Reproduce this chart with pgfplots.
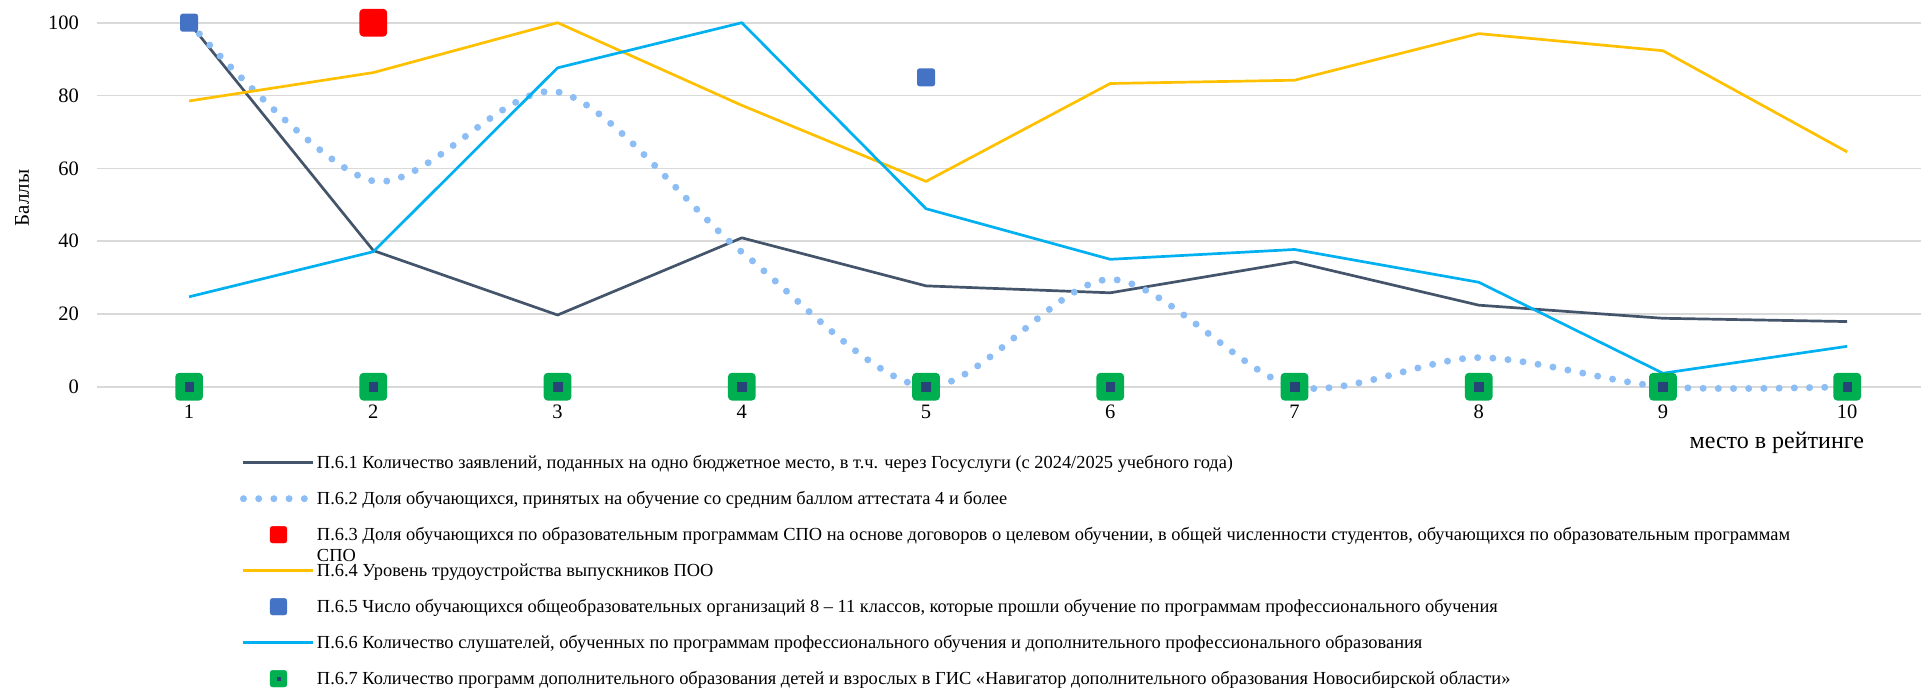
\documentclass[border=0pt]{standalone}
\usepackage{fontspec}
\setmainfont{Liberation Serif}
\usepackage{pgfplots}
\pgfplotsset{compat=1.18}
\definecolor{s1}{HTML}{44546A}
\definecolor{s2}{RGB}{140,190,245}
\definecolor{s3}{HTML}{FF0000}
\definecolor{s4}{HTML}{FFC000}
\definecolor{s5}{HTML}{4472C4}
\definecolor{s6}{HTML}{00B0F0}
\definecolor{s7}{HTML}{00B050}
\definecolor{navy}{HTML}{264478}
\definecolor{gridgray}{HTML}{D9D9D9}
\newdimen\rsqm \newdimen\rsqr \newdimen\rsqa
\pgfdeclareplotmark{rsquare}{%
  \rsqm=\pgfplotmarksize \rsqr=0.28\pgfplotmarksize \rsqa=\rsqm \advance\rsqa by -\rsqr
  \pgfpathmoveto{\pgfpoint{-\rsqa}{-\rsqm}}%
  \pgfpathlineto{\pgfpoint{\rsqa}{-\rsqm}}%
  \pgfpatharc{-90}{0}{\rsqr}%
  \pgfpathlineto{\pgfpoint{\rsqm}{\rsqa}}%
  \pgfpatharc{0}{90}{\rsqr}%
  \pgfpathlineto{\pgfpoint{-\rsqa}{\rsqm}}%
  \pgfpatharc{90}{180}{\rsqr}%
  \pgfpathlineto{\pgfpoint{-\rsqm}{-\rsqa}}%
  \pgfpatharc{180}{270}{\rsqr}%
  \pgfpathclose
  \pgfusepathqfill}
\begin{document}
\begin{tikzpicture}
\useasboundingbox (0,0) rectangle (1921pt,-689pt);
\begin{axis}[
  at={(97pt,-386.7pt)}, anchor=south west,
  width=1824pt, height=364pt, scale only axis,
  xmin=0.5, xmax=10.4, ymin=0, ymax=100,
  xtick={1,...,10}, ytick={0,20,...,100},
  ymajorgrids, grid style={draw=gridgray, line width=1.6pt},
  axis line style={draw=none}, major tick length=0pt,
  clip=false,
  /pgf/number format/assume math mode=true,
  ticklabel style={font=\fontsize{20.5}{24}\selectfont, inner sep=0pt},
  xticklabel style={yshift=-18.3pt},
  yticklabel style={xshift=-18pt},
  ylabel={Баллы},
  ylabel style={at={(axis description cs:-0.0411,0.518)}, anchor=center, font=\fontsize{21}{25}\selectfont},
  xlabel={место в рейтинге},
  xlabel style={at={(axis description cs:0.921,-0.1547)}, anchor=center, font=\fontsize{24}{28}\selectfont},
  legend cell align=left,
  legend image code/.code={\draw[#1] (0pt,0pt) -- (70pt,0pt);},
  legend style={at={(axis description cs:0.0784,-0.184)}, anchor=north west,
    draw=none, fill=none, inner sep=0pt, outer sep=0pt,
    row sep=18pt, column sep=0pt,
    nodes={inner sep=0pt, text height=14.5pt, text depth=3.5pt, font=\fontsize{18.4}{21.6}\selectfont}},
]
\addplot[s1, line width=2.7pt, line join=round, mark=none] coordinates {
 (1,100) (2,37.4) (3,19.7) (4,40.9) (5,27.7) (6,25.8) (7,34.3) (8,22.4) (9,18.8) (10,17.9)};
\addlegendentry{П.6.1 Количество заявлений, поданных на одно бюджетное место, в т.ч. через Госуслуги (с 2024/2025 учебного года)}
\addplot[s2, line width=7pt, line cap=round, dash pattern=on 0pt off 15.2pt, smooth, mark=none] coordinates {
 (1,100) (2,56.5) (3,81) (4,37) (5,0) (6,29.5) (7,0) (8,8) (9,0) (10,0)};
\addlegendentry{П.6.2 Доля обучающихся, принятых на обучение со средним баллом аттестата 4 и более}
\addplot[s3, only marks, mark=rsquare, mark size=13.85pt,
  legend image code/.code={\fill[s3, rounded corners=2.5pt] (26.65pt,-8.35pt) rectangle (43.35pt,8.35pt);}] coordinates {(2,100)};
\addlegendentry{\smash{\parbox[t]{1700pt}{П.6.3 Доля обучающихся по образовательным программам СПО на основе договоров о целевом обучении, в общей численности студентов, обучающихся по образовательным программам\\СПО}}}
\addplot[s4, line width=2.7pt, line join=round, mark=none] coordinates {
 (1,78.5) (2,86.3) (3,100) (4,77.3) (5,56.4) (6,83.3) (7,84.2) (8,97) (9,92.3) (10,64.5)};
\addlegendentry{П.6.4 Уровень трудоустройства выпускников ПОО}
\addplot[s5, only marks, mark=rsquare, mark size=9pt,
  legend image code/.code={\fill[s5, rounded corners=2.5pt] (26.65pt,-8.35pt) rectangle (43.35pt,8.35pt);}] coordinates {(1,100) (5,85)};
\addlegendentry{П.6.5 Число обучающихся общеобразовательных организаций 8 – 11 классов, которые прошли обучение по программам профессионального обучения}
\addplot[s6, line width=2.7pt, line join=round, mark=none] coordinates {
 (1,24.7) (2,37.1) (3,87.6) (4,100) (5,48.9) (6,35) (7,37.7) (8,28.7) (9,3.7) (10,11.1)};
\addlegendentry{П.6.6 Количество слушателей, обученных по программам профессионального обучения и дополнительного профессионального образования}
\addplot[s7, only marks, mark=rsquare, mark size=13.85pt,
  legend image code/.code={\fill[s7, rounded corners=2.5pt] (26.65pt,-8.35pt) rectangle (43.35pt,8.35pt);\fill[navy] (33.5pt,-1.5pt) rectangle (36.5pt,1.5pt);}] coordinates {
 (1,0) (2,0) (3,0) (4,0) (5,0) (6,0) (7,0) (8,0) (9,0) (10,0)};
\addlegendentry{П.6.7 Количество программ дополнительного образования детей и взрослых в ГИС «Навигатор дополнительного образования Новосибирской области»}
\addplot[navy, only marks, mark=square*, mark size=4.35pt, forget plot] coordinates {
 (1,0) (2,0) (3,0) (4,0) (5,0) (6,0) (7,0) (8,0) (9,0) (10,0)};
\end{axis}
\end{tikzpicture}
\end{document}
